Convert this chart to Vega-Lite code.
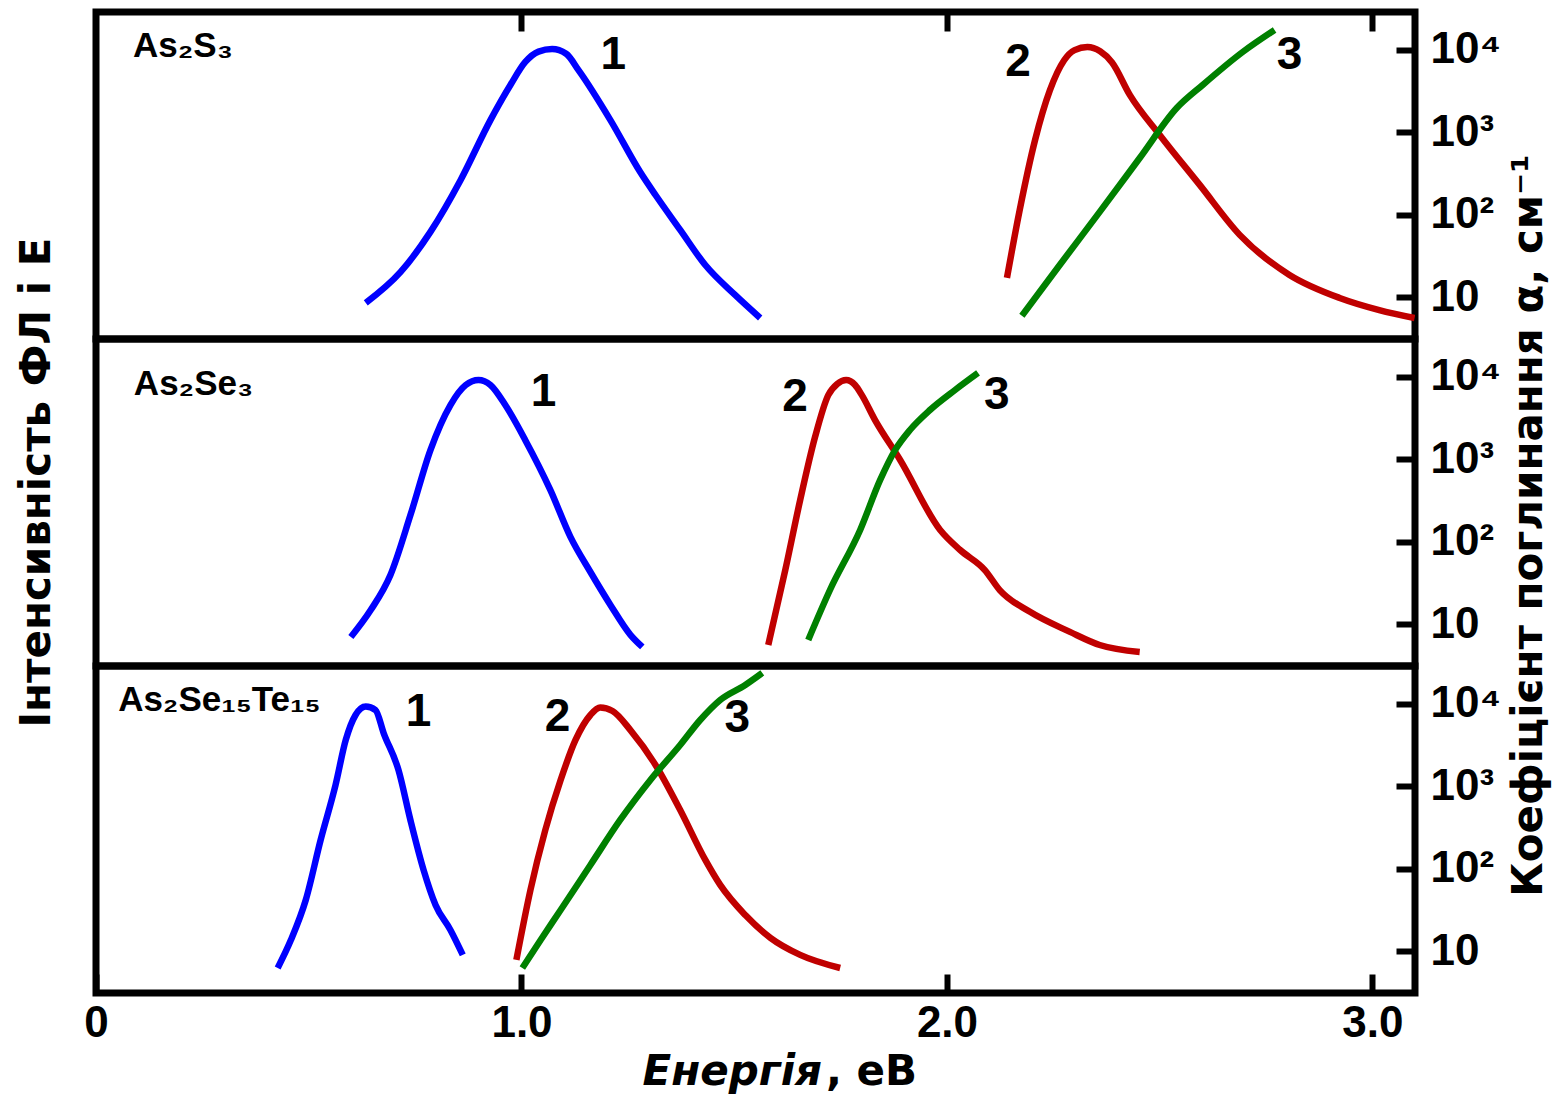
{
  "$schema": "https://vega.github.io/schema/vega-lite/v6.json",
  "autosize": {"type": "pad"},
  "padding": {"left": 11, "top": 5, "right": 5, "bottom": 5},
  "background": "white",
  "title": {"text": ", еВ", "orient": "bottom", "anchor": "start", "frame": "group", "font": "DejaVu Sans", "fontSize": 42, "fontWeight": "bold", "fontStyle": "normal", "color": "black", "baseline": "top", "dx": 730, "dy": -44, "offset": 0},
  "config": {
    "font": "Liberation Sans",
    "view": {"stroke": "black", "strokeWidth": 7},
    "axis": {"labelColor": "black", "titleColor": "black", "labelFontWeight": "bold", "titleFontWeight": "bold", "labelFont": "Liberation Sans", "titleFont": "DejaVu Sans"}
  },
  "spacing": 0,
  "bounds": "flush",
  "datasets": {
    "curves": [
      {"panel": "A", "curve": "1", "E": 0.634, "I": -0.022},
      {"panel": "A", "curve": "1", "E": 0.716, "I": 0.103},
      {"panel": "A", "curve": "1", "E": 0.786, "I": 0.265},
      {"panel": "A", "curve": "1", "E": 0.857, "I": 0.475},
      {"panel": "A", "curve": "1", "E": 0.927, "I": 0.717},
      {"panel": "A", "curve": "1", "E": 0.974, "I": 0.859},
      {"panel": "A", "curve": "1", "E": 1.009, "I": 0.952},
      {"panel": "A", "curve": "1", "E": 1.040, "I": 0.994},
      {"panel": "A", "curve": "1", "E": 1.072, "I": 1.004},
      {"panel": "A", "curve": "1", "E": 1.105, "I": 0.985},
      {"panel": "A", "curve": "1", "E": 1.134, "I": 0.919},
      {"panel": "A", "curve": "1", "E": 1.209, "I": 0.717},
      {"panel": "A", "curve": "1", "E": 1.279, "I": 0.507},
      {"panel": "A", "curve": "1", "E": 1.315, "I": 0.414},
      {"panel": "A", "curve": "1", "E": 1.373, "I": 0.273},
      {"panel": "A", "curve": "1", "E": 1.432, "I": 0.131},
      {"panel": "A", "curve": "1", "E": 1.502, "I": 0.010},
      {"panel": "A", "curve": "1", "E": 1.561, "I": -0.083},
      {"panel": "A", "curve": "2", "E": 2.141, "I": 0.079},
      {"panel": "A", "curve": "2", "E": 2.171, "I": 0.354},
      {"panel": "A", "curve": "2", "E": 2.207, "I": 0.636},
      {"panel": "A", "curve": "2", "E": 2.242, "I": 0.838},
      {"panel": "A", "curve": "2", "E": 2.275, "I": 0.958},
      {"panel": "A", "curve": "2", "E": 2.300, "I": 1.000},
      {"panel": "A", "curve": "2", "E": 2.330, "I": 1.012},
      {"panel": "A", "curve": "2", "E": 2.360, "I": 0.995},
      {"panel": "A", "curve": "2", "E": 2.388, "I": 0.950},
      {"panel": "A", "curve": "2", "E": 2.430, "I": 0.818},
      {"panel": "A", "curve": "2", "E": 2.500, "I": 0.657},
      {"panel": "A", "curve": "2", "E": 2.594, "I": 0.455},
      {"panel": "A", "curve": "2", "E": 2.688, "I": 0.253},
      {"panel": "A", "curve": "2", "E": 2.805, "I": 0.091},
      {"panel": "A", "curve": "2", "E": 2.923, "I": -0.002},
      {"panel": "A", "curve": "2", "E": 3.016, "I": -0.051},
      {"panel": "A", "curve": "2", "E": 3.099, "I": -0.083},
      {"panel": "A", "curve": "3", "E": 2.176, "alpha": 6.0},
      {"panel": "A", "curve": "3", "E": 2.265, "alpha": 24.8},
      {"panel": "A", "curve": "3", "E": 2.359, "alpha": 109},
      {"panel": "A", "curve": "3", "E": 2.453, "alpha": 491},
      {"panel": "A", "curve": "3", "E": 2.540, "alpha": 1980},
      {"panel": "A", "curve": "3", "E": 2.601, "alpha": 3770},
      {"panel": "A", "curve": "3", "E": 2.695, "alpha": 9460},
      {"panel": "A", "curve": "3", "E": 2.770, "alpha": 17500},
      {"panel": "B", "curve": "1", "E": 0.599, "I": -0.051},
      {"panel": "B", "curve": "1", "E": 0.646, "I": 0.059},
      {"panel": "B", "curve": "1", "E": 0.692, "I": 0.200},
      {"panel": "B", "curve": "1", "E": 0.739, "I": 0.442},
      {"panel": "B", "curve": "1", "E": 0.786, "I": 0.705},
      {"panel": "B", "curve": "1", "E": 0.833, "I": 0.887},
      {"panel": "B", "curve": "1", "E": 0.869, "I": 0.968},
      {"panel": "B", "curve": "1", "E": 0.899, "I": 0.988},
      {"panel": "B", "curve": "1", "E": 0.927, "I": 0.968},
      {"panel": "B", "curve": "1", "E": 0.962, "I": 0.887},
      {"panel": "B", "curve": "1", "E": 1.009, "I": 0.745},
      {"panel": "B", "curve": "1", "E": 1.068, "I": 0.543},
      {"panel": "B", "curve": "1", "E": 1.115, "I": 0.354},
      {"panel": "B", "curve": "1", "E": 1.162, "I": 0.212},
      {"panel": "B", "curve": "1", "E": 1.209, "I": 0.079},
      {"panel": "B", "curve": "1", "E": 1.256, "I": -0.042},
      {"panel": "B", "curve": "1", "E": 1.284, "I": -0.091},
      {"panel": "B", "curve": "2", "E": 1.580, "I": -0.083},
      {"panel": "B", "curve": "2", "E": 1.620, "I": 0.220},
      {"panel": "B", "curve": "2", "E": 1.655, "I": 0.503},
      {"panel": "B", "curve": "2", "E": 1.690, "I": 0.758},
      {"panel": "B", "curve": "2", "E": 1.721, "I": 0.927},
      {"panel": "B", "curve": "2", "E": 1.742, "I": 0.972},
      {"panel": "B", "curve": "2", "E": 1.763, "I": 0.988},
      {"panel": "B", "curve": "2", "E": 1.784, "I": 0.968},
      {"panel": "B", "curve": "2", "E": 1.800, "I": 0.927},
      {"panel": "B", "curve": "2", "E": 1.831, "I": 0.826},
      {"panel": "B", "curve": "2", "E": 1.890, "I": 0.665},
      {"panel": "B", "curve": "2", "E": 1.984, "I": 0.382},
      {"panel": "B", "curve": "2", "E": 2.031, "I": 0.301},
      {"panel": "B", "curve": "2", "E": 2.089, "I": 0.220},
      {"panel": "B", "curve": "2", "E": 2.124, "I": 0.139},
      {"panel": "B", "curve": "2", "E": 2.195, "I": 0.051},
      {"panel": "B", "curve": "2", "E": 2.289, "I": -0.030},
      {"panel": "B", "curve": "2", "E": 2.359, "I": -0.083},
      {"panel": "B", "curve": "2", "E": 2.453, "I": -0.111},
      {"panel": "B", "curve": "3", "E": 1.674, "alpha": 6.5},
      {"panel": "B", "curve": "3", "E": 1.725, "alpha": 26.2},
      {"panel": "B", "curve": "3", "E": 1.796, "alpha": 140},
      {"panel": "B", "curve": "3", "E": 1.843, "alpha": 565},
      {"panel": "B", "curve": "3", "E": 1.878, "alpha": 1300},
      {"panel": "B", "curve": "3", "E": 1.913, "alpha": 2280},
      {"panel": "B", "curve": "3", "E": 1.960, "alpha": 3980},
      {"panel": "B", "curve": "3", "E": 2.019, "alpha": 6960},
      {"panel": "B", "curve": "3", "E": 2.073, "alpha": 11200},
      {"panel": "C", "curve": "1", "E": 0.427, "I": -0.067},
      {"panel": "C", "curve": "1", "E": 0.458, "I": 0.046},
      {"panel": "C", "curve": "1", "E": 0.493, "I": 0.208},
      {"panel": "C", "curve": "1", "E": 0.528, "I": 0.451},
      {"panel": "C", "curve": "1", "E": 0.563, "I": 0.673},
      {"panel": "C", "curve": "1", "E": 0.587, "I": 0.855},
      {"panel": "C", "curve": "1", "E": 0.610, "I": 0.956},
      {"panel": "C", "curve": "1", "E": 0.634, "I": 0.990},
      {"panel": "C", "curve": "1", "E": 0.657, "I": 0.976},
      {"panel": "C", "curve": "1", "E": 0.676, "I": 0.883},
      {"panel": "C", "curve": "1", "E": 0.711, "I": 0.733},
      {"panel": "C", "curve": "1", "E": 0.739, "I": 0.531},
      {"panel": "C", "curve": "1", "E": 0.770, "I": 0.329},
      {"panel": "C", "curve": "1", "E": 0.798, "I": 0.188},
      {"panel": "C", "curve": "1", "E": 0.833, "I": 0.087},
      {"panel": "C", "curve": "1", "E": 0.862, "I": -0.014},
      {"panel": "C", "curve": "2", "E": 0.988, "I": -0.034},
      {"panel": "C", "curve": "2", "E": 1.021, "I": 0.248},
      {"panel": "C", "curve": "2", "E": 1.056, "I": 0.491},
      {"panel": "C", "curve": "2", "E": 1.092, "I": 0.693},
      {"panel": "C", "curve": "2", "E": 1.127, "I": 0.855},
      {"panel": "C", "curve": "2", "E": 1.162, "I": 0.956},
      {"panel": "C", "curve": "2", "E": 1.185, "I": 0.986},
      {"panel": "C", "curve": "2", "E": 1.214, "I": 0.972},
      {"panel": "C", "curve": "2", "E": 1.256, "I": 0.895},
      {"panel": "C", "curve": "2", "E": 1.315, "I": 0.754},
      {"panel": "C", "curve": "2", "E": 1.373, "I": 0.572},
      {"panel": "C", "curve": "2", "E": 1.432, "I": 0.370},
      {"panel": "C", "curve": "2", "E": 1.467, "I": 0.269},
      {"panel": "C", "curve": "2", "E": 1.526, "I": 0.147},
      {"panel": "C", "curve": "2", "E": 1.585, "I": 0.055},
      {"panel": "C", "curve": "2", "E": 1.655, "I": -0.014},
      {"panel": "C", "curve": "2", "E": 1.749, "I": -0.067},
      {"panel": "C", "curve": "3", "E": 1.002, "alpha": 6.3},
      {"panel": "C", "curve": "3", "E": 1.045, "alpha": 13.8},
      {"panel": "C", "curve": "3", "E": 1.092, "alpha": 31.8},
      {"panel": "C", "curve": "3", "E": 1.162, "alpha": 112},
      {"panel": "C", "curve": "3", "E": 1.232, "alpha": 393},
      {"panel": "C", "curve": "3", "E": 1.303, "alpha": 1200},
      {"panel": "C", "curve": "3", "E": 1.373, "alpha": 3180},
      {"panel": "C", "curve": "3", "E": 1.420, "alpha": 6400},
      {"panel": "C", "curve": "3", "E": 1.467, "alpha": 11200},
      {"panel": "C", "curve": "3", "E": 1.526, "alpha": 17000},
      {"panel": "C", "curve": "3", "E": 1.566, "alpha": 23800}
    ],
    "labels": [
      {"panel": "A", "kind": "num", "label": "1", "E": 1.216, "I": 0.980},
      {"panel": "A", "kind": "num", "label": "2", "E": 2.167, "I": 0.952},
      {"panel": "A", "kind": "num", "label": "3", "E": 2.805, "I": 0.980},
      {"panel": "B", "kind": "num", "label": "1", "E": 1.052, "I": 0.941},
      {"panel": "B", "kind": "num", "label": "2", "E": 1.643, "I": 0.921},
      {"panel": "B", "kind": "num", "label": "3", "E": 2.117, "I": 0.929},
      {"panel": "C", "kind": "num", "label": "1", "E": 0.758, "I": 0.968},
      {"panel": "C", "kind": "num", "label": "2", "E": 1.085, "I": 0.947},
      {"panel": "C", "kind": "num", "label": "3", "E": 1.507, "I": 0.943},
      {"panel": "A", "kind": "name", "label": "As₂S₃", "E": 0.087, "I": 1.016},
      {"panel": "B", "kind": "name", "label": "As₂Se₃", "E": 0.089, "I": 0.972},
      {"panel": "C", "kind": "name", "label": "As₂Se₁₅Te₁₅", "E": 0.052, "I": 1.016}
    ]
  },
  "vconcat": [
    {
      "width": 1319, "height": 327,
      "layer": [
        {
          "data": {"name": "curves"},
          "transform": [{"filter": {"field": "panel", "equal": "A"}}, {"filter": {"field": "curve", "oneOf": ["1", "2"]}}],
          "mark": {"type": "line", "strokeWidth": 6.5, "interpolate": "monotone", "clip": true},
          "encoding": {
            "x": {"field": "E", "type": "quantitative", "scale": {"domain": [0, 3.1], "nice": false, "zero": false},
                  "axis": {"orient": "top", "values": [1, 2, 3], "labels": false, "domain": false, "grid": false, "ticks": true, "tickSize": -19, "tickWidth": 6, "tickColor": "black", "title": null}},
            "y": {"field": "I", "type": "quantitative", "scale": {"domain": [-0.168, 1.154], "nice": false, "zero": false}, "axis": null},
            "color": {"field": "curve", "type": "nominal", "scale": {"domain": ["1", "2", "3"], "range": ["#0000ff", "#c00000", "#008000"]}, "legend": null}
          }
        },
        {
          "data": {"name": "curves"},
          "transform": [{"filter": {"field": "panel", "equal": "A"}}, {"filter": {"field": "curve", "equal": "3"}}],
          "mark": {"type": "line", "strokeWidth": 6.5, "interpolate": "monotone", "clip": true},
          "encoding": {
            "x": {"field": "E", "type": "quantitative", "scale": {"domain": [0, 3.1], "nice": false, "zero": false},
                  "axis": {"orient": "top", "values": [1, 2, 3], "labels": false, "domain": false, "grid": false, "ticks": true, "tickSize": -19, "tickWidth": 6, "tickColor": "black", "title": null}},
            "y": {"field": "alpha", "type": "quantitative", "scale": {"type": "log", "domain": [3.14, 28880], "nice": false},
                  "axis": {"orient": "right", "values": [10, 100, 1000, 10000], "labelExpr": "datum.value == 10 ? '10' : datum.value == 100 ? '10²' : datum.value == 1000 ? '10³' : '10⁴'", "domain": false, "grid": false, "tickSize": -19, "tickWidth": 6, "tickColor": "black", "labelFontSize": 44, "labelPadding": 34, "labelFlush": false, "labelOverlap": false, "labelBaseline": "middle", "labelAlign": "left", "title": null}},
            "color": {"field": "curve", "type": "nominal", "scale": {"domain": ["1", "2", "3"], "range": ["#0000ff", "#c00000", "#008000"]}, "legend": null}
          }
        },
        {
          "data": {"name": "labels"},
          "transform": [{"filter": {"field": "panel", "equal": "A"}}, {"filter": {"field": "kind", "equal": "num"}}],
          "mark": {"type": "text", "fontSize": 46, "fontWeight": "bold", "color": "black", "align": "center", "baseline": "middle"},
          "encoding": {
            "x": {"field": "E", "type": "quantitative", "scale": {"domain": [0, 3.1], "nice": false, "zero": false},
                  "axis": {"orient": "top", "values": [1, 2, 3], "labels": false, "domain": false, "grid": false, "ticks": true, "tickSize": -19, "tickWidth": 6, "tickColor": "black", "title": null}},
            "y": {"field": "I", "type": "quantitative", "scale": {"domain": [-0.168, 1.154], "nice": false, "zero": false}, "axis": null},
            "text": {"field": "label"}
          }
        },
        {
          "data": {"name": "labels"},
          "transform": [{"filter": {"field": "panel", "equal": "A"}}, {"filter": {"field": "kind", "equal": "name"}}],
          "mark": {"type": "text", "fontSize": 35, "fontWeight": "bold", "color": "black", "align": "left", "baseline": "middle"},
          "encoding": {
            "x": {"field": "E", "type": "quantitative", "scale": {"domain": [0, 3.1], "nice": false, "zero": false},
                  "axis": {"orient": "top", "values": [1, 2, 3], "labels": false, "domain": false, "grid": false, "ticks": true, "tickSize": -19, "tickWidth": 6, "tickColor": "black", "title": null}},
            "y": {"field": "I", "type": "quantitative", "scale": {"domain": [-0.168, 1.154], "nice": false, "zero": false}, "axis": null},
            "text": {"field": "label"}
          }
        }
      ],
      "resolve": {"scale": {"y": "independent"}}
    },
    {
      "width": 1319, "height": 327,
      "layer": [
        {
          "data": {"name": "curves"},
          "transform": [{"filter": {"field": "panel", "equal": "B"}}, {"filter": {"field": "curve", "oneOf": ["1", "2"]}}],
          "mark": {"type": "line", "strokeWidth": 6.5, "interpolate": "monotone", "clip": true},
          "encoding": {
            "x": {"field": "E", "type": "quantitative", "scale": {"domain": [0, 3.1], "nice": false, "zero": false}, "axis": null},
            "y": {"field": "I", "type": "quantitative", "scale": {"domain": [-0.168, 1.154], "nice": false, "zero": false},
                  "axis": {"orient": "left", "ticks": false, "labels": false, "domain": false, "grid": false, "title": "Інтенсивність ФЛ і Е", "titleFontSize": 42, "titlePadding": 38, "titleY": 143}},
            "color": {"field": "curve", "type": "nominal", "scale": {"domain": ["1", "2", "3"], "range": ["#0000ff", "#c00000", "#008000"]}, "legend": null}
          }
        },
        {
          "data": {"name": "curves"},
          "transform": [{"filter": {"field": "panel", "equal": "B"}}, {"filter": {"field": "curve", "equal": "3"}}],
          "mark": {"type": "line", "strokeWidth": 6.5, "interpolate": "monotone", "clip": true},
          "encoding": {
            "x": {"field": "E", "type": "quantitative", "scale": {"domain": [0, 3.1], "nice": false, "zero": false}, "axis": null},
            "y": {"field": "alpha", "type": "quantitative", "scale": {"type": "log", "domain": [3.14, 28880], "nice": false},
                  "axis": {"orient": "right", "values": [10, 100, 1000, 10000], "labelExpr": "datum.value == 10 ? '10' : datum.value == 100 ? '10²' : datum.value == 1000 ? '10³' : '10⁴'", "domain": false, "grid": false, "tickSize": -19, "tickWidth": 6, "tickColor": "black", "labelFontSize": 44, "labelPadding": 34, "labelFlush": false, "labelOverlap": false, "labelBaseline": "middle", "labelAlign": "left",
                           "title": "Коефіцієнт поглинання α, см⁻¹", "titleFontSize": 42, "titleAngle": 270, "titleBaseline": "top", "titlePadding": 8, "titleY": 186}},
            "color": {"field": "curve", "type": "nominal", "scale": {"domain": ["1", "2", "3"], "range": ["#0000ff", "#c00000", "#008000"]}, "legend": null}
          }
        },
        {
          "data": {"name": "labels"},
          "transform": [{"filter": {"field": "panel", "equal": "B"}}, {"filter": {"field": "kind", "equal": "num"}}],
          "mark": {"type": "text", "fontSize": 46, "fontWeight": "bold", "color": "black", "align": "center", "baseline": "middle"},
          "encoding": {
            "x": {"field": "E", "type": "quantitative", "scale": {"domain": [0, 3.1], "nice": false, "zero": false}, "axis": null},
            "y": {"field": "I", "type": "quantitative", "scale": {"domain": [-0.168, 1.154], "nice": false, "zero": false}, "axis": null},
            "text": {"field": "label"}
          }
        },
        {
          "data": {"name": "labels"},
          "transform": [{"filter": {"field": "panel", "equal": "B"}}, {"filter": {"field": "kind", "equal": "name"}}],
          "mark": {"type": "text", "fontSize": 35, "fontWeight": "bold", "color": "black", "align": "left", "baseline": "middle"},
          "encoding": {
            "x": {"field": "E", "type": "quantitative", "scale": {"domain": [0, 3.1], "nice": false, "zero": false}, "axis": null},
            "y": {"field": "I", "type": "quantitative", "scale": {"domain": [-0.168, 1.154], "nice": false, "zero": false}, "axis": null},
            "text": {"field": "label"}
          }
        }
      ],
      "resolve": {"scale": {"y": "independent"}}
    },
    {
      "width": 1319, "height": 327,
      "layer": [
        {
          "data": {"name": "curves"},
          "transform": [{"filter": {"field": "panel", "equal": "C"}}, {"filter": {"field": "curve", "oneOf": ["1", "2"]}}],
          "mark": {"type": "line", "strokeWidth": 6.5, "interpolate": "monotone", "clip": true},
          "encoding": {
            "x": {"field": "E", "type": "quantitative", "scale": {"domain": [0, 3.1], "nice": false, "zero": false},
                  "axis": {"orient": "bottom", "values": [0, 1, 2, 3], "labelExpr": "datum.value == 0 ? '0' : format(datum.value, '.1f')", "domain": false, "grid": false, "tickSize": -19, "tickWidth": 6, "tickColor": "black", "labelFontSize": 44, "labelPadding": 27, "labelFlush": false, "labelOverlap": false, "title": "Енергія", "titleFontSize": 42, "titleFontStyle": "italic", "titlePadding": 6, "titleAlign": "left", "titleAnchor": "start", "titleX": 546}},
            "y": {"field": "I", "type": "quantitative", "scale": {"domain": [-0.168, 1.154], "nice": false, "zero": false}, "axis": null},
            "color": {"field": "curve", "type": "nominal", "scale": {"domain": ["1", "2", "3"], "range": ["#0000ff", "#c00000", "#008000"]}, "legend": null}
          }
        },
        {
          "data": {"name": "curves"},
          "transform": [{"filter": {"field": "panel", "equal": "C"}}, {"filter": {"field": "curve", "equal": "3"}}],
          "mark": {"type": "line", "strokeWidth": 6.5, "interpolate": "monotone", "clip": true},
          "encoding": {
            "x": {"field": "E", "type": "quantitative", "scale": {"domain": [0, 3.1], "nice": false, "zero": false},
                  "axis": {"orient": "bottom", "values": [0, 1, 2, 3], "labelExpr": "datum.value == 0 ? '0' : format(datum.value, '.1f')", "domain": false, "grid": false, "tickSize": -19, "tickWidth": 6, "tickColor": "black", "labelFontSize": 44, "labelPadding": 27, "labelFlush": false, "labelOverlap": false, "title": "Енергія", "titleFontSize": 42, "titleFontStyle": "italic", "titlePadding": 6, "titleAlign": "left", "titleAnchor": "start", "titleX": 546}},
            "y": {"field": "alpha", "type": "quantitative", "scale": {"type": "log", "domain": [3.14, 28880], "nice": false},
                  "axis": {"orient": "right", "values": [10, 100, 1000, 10000], "labelExpr": "datum.value == 10 ? '10' : datum.value == 100 ? '10²' : datum.value == 1000 ? '10³' : '10⁴'", "domain": false, "grid": false, "tickSize": -19, "tickWidth": 6, "tickColor": "black", "labelFontSize": 44, "labelPadding": 34, "labelFlush": false, "labelOverlap": false, "labelBaseline": "middle", "labelAlign": "left", "title": null}},
            "color": {"field": "curve", "type": "nominal", "scale": {"domain": ["1", "2", "3"], "range": ["#0000ff", "#c00000", "#008000"]}, "legend": null}
          }
        },
        {
          "data": {"name": "labels"},
          "transform": [{"filter": {"field": "panel", "equal": "C"}}, {"filter": {"field": "kind", "equal": "num"}}],
          "mark": {"type": "text", "fontSize": 46, "fontWeight": "bold", "color": "black", "align": "center", "baseline": "middle"},
          "encoding": {
            "x": {"field": "E", "type": "quantitative", "scale": {"domain": [0, 3.1], "nice": false, "zero": false},
                  "axis": {"orient": "bottom", "values": [0, 1, 2, 3], "labelExpr": "datum.value == 0 ? '0' : format(datum.value, '.1f')", "domain": false, "grid": false, "tickSize": -19, "tickWidth": 6, "tickColor": "black", "labelFontSize": 44, "labelPadding": 27, "labelFlush": false, "labelOverlap": false, "title": "Енергія", "titleFontSize": 42, "titleFontStyle": "italic", "titlePadding": 6, "titleAlign": "left", "titleAnchor": "start", "titleX": 546}},
            "y": {"field": "I", "type": "quantitative", "scale": {"domain": [-0.168, 1.154], "nice": false, "zero": false}, "axis": null},
            "text": {"field": "label"}
          }
        },
        {
          "data": {"name": "labels"},
          "transform": [{"filter": {"field": "panel", "equal": "C"}}, {"filter": {"field": "kind", "equal": "name"}}],
          "mark": {"type": "text", "fontSize": 35, "fontWeight": "bold", "color": "black", "align": "left", "baseline": "middle"},
          "encoding": {
            "x": {"field": "E", "type": "quantitative", "scale": {"domain": [0, 3.1], "nice": false, "zero": false},
                  "axis": {"orient": "bottom", "values": [0, 1, 2, 3], "labelExpr": "datum.value == 0 ? '0' : format(datum.value, '.1f')", "domain": false, "grid": false, "tickSize": -19, "tickWidth": 6, "tickColor": "black", "labelFontSize": 44, "labelPadding": 27, "labelFlush": false, "labelOverlap": false, "title": "Енергія", "titleFontSize": 42, "titleFontStyle": "italic", "titlePadding": 6, "titleAlign": "left", "titleAnchor": "start", "titleX": 546}},
            "y": {"field": "I", "type": "quantitative", "scale": {"domain": [-0.168, 1.154], "nice": false, "zero": false}, "axis": null},
            "text": {"field": "label"}
          }
        }
      ],
      "resolve": {"scale": {"y": "independent"}}
    }
  ]
}
